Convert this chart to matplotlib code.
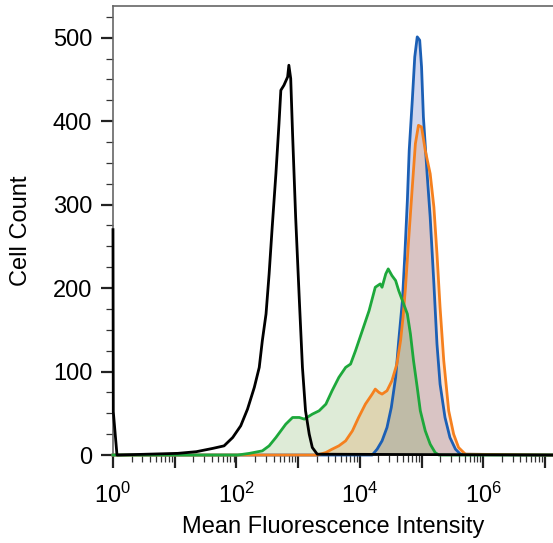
import matplotlib
matplotlib.use("Agg")
import matplotlib.pyplot as plt
import matplotlib.ticker as mticker
import numpy as np

plt.rcParams["font.family"] = ["Liberation Sans", "DejaVu Sans"]
plt.rcParams["mathtext.fontset"] = "custom"
plt.rcParams["mathtext.rm"] = "Liberation Sans"

# 曲线数据：x 为 log10(MFI)，y 为细胞计数
black_exp = [0.0, 0.005, 0.065, 1.05, 1.35, 1.62, 1.80, 1.94, 2.07, 2.18, 2.29, 2.37, 2.42, 2.48,
             2.53, 2.58, 2.64, 2.69, 2.72, 2.77, 2.83, 2.85, 2.88, 2.91, 2.96, 3.02, 3.07,
             3.12, 3.18, 3.23, 3.31, 7.13]
black_cnt = [270, 52, 0, 2, 4, 8, 11, 21, 35, 55, 81, 105, 137, 169,
             217, 273, 337, 397, 437, 443, 453, 467, 451, 385, 285, 185, 105,
             53, 25, 9, 1, 0]

green_exp = [0.0, 2.02, 2.21, 2.42, 2.53, 2.64, 2.80, 2.91, 3.02, 3.10, 3.23, 3.34, 3.45, 3.55,
             3.66, 3.77, 3.85, 3.93, 4.04, 4.15, 4.25, 4.33, 4.36, 4.42, 4.46, 4.52, 4.58,
             4.63, 4.69, 4.77, 4.82, 4.87, 4.93, 4.98, 5.06, 5.14, 5.22, 5.28, 7.13]
green_cnt = [0, 0, 2, 5, 11, 21, 37, 45, 45, 43, 49, 53, 61, 77,
             93, 105, 109, 125, 149, 173, 201, 205, 201, 217, 223, 215, 209,
             197, 185, 169, 145, 113, 81, 53, 29, 13, 3, 0, 0]

orange_exp = [0.0, 3.31, 3.45, 3.55, 3.66, 3.77, 3.88, 3.98, 4.09, 4.20, 4.25, 4.31, 4.36, 4.44,
              4.52, 4.60, 4.66, 4.70, 4.74, 4.79, 4.85, 4.90, 4.95, 5.00, 5.06, 5.14, 5.20,
              5.25, 5.30, 5.36, 5.44, 5.52, 5.60, 5.71, 7.13]
orange_cnt = [0, 0, 3, 7, 11, 17, 29, 45, 61, 73, 79, 75, 73, 77,
              89, 109, 137, 165, 201, 257, 321, 373, 395, 393, 365, 337, 297,
              241, 177, 113, 53, 25, 9, 1, 0]

blue_exp = [0.0, 4.20, 4.28, 4.36, 4.44, 4.51, 4.58, 4.63, 4.69, 4.73, 4.77, 4.80, 4.85, 4.89,
            4.93, 4.97, 5.00, 5.03, 5.09, 5.14, 5.20, 5.25, 5.30, 5.38, 5.46, 5.55, 5.63, 7.13]
blue_cnt = [0, 0, 7, 17, 33, 57, 93, 137, 185, 241, 305, 365, 425, 477,
            501, 497, 465, 405, 337, 285, 205, 133, 85, 45, 21, 7, 1, 0]

x_labels = {0: r"$\mathregular{10^{0}}$", 2: r"$\mathregular{10^{2}}$",
            4: r"$\mathregular{10^{4}}$", 6: r"$\mathregular{10^{6}}$"}

fig = plt.figure(figsize=(5.53, 5.43), dpi=100)
ax = fig.add_axes([0.2043, 0.162, 0.7957, 0.827])

# 绘制顺序：蓝、橙、绿（带填充），最后黑色
series = [
    (blue_exp, blue_cnt, "#1b5fb5", "#1432aa", 0.20),
    (orange_exp, orange_cnt, "#f5801e", "#ff7c1c", 0.20),
    (green_exp, green_cnt, "#1da83b", "#5a9b37", 0.20),
]
for exps, cnts, lc, fc, a in series:
    xs = 10 ** np.array(exps)
    ax.fill_between(xs, cnts, 0, color=fc, alpha=a, linewidth=0, zorder=2)
    ax.plot(xs, cnts, color=lc, lw=2.0, zorder=3, clip_on=False)

ax.plot(10 ** np.array(black_exp), black_cnt, color="black", lw=2.0, zorder=4, clip_on=False)

ax.set_xscale("log")
ax.set_xlim(1, 10 ** 7.13)
ax.set_ylim(0, 538)

ax.xaxis.set_major_locator(mticker.FixedLocator([10 ** i for i in range(8)]))
ax.xaxis.set_major_formatter(mticker.FuncFormatter(
    lambda v, p: x_labels.get(int(round(np.log10(v))), "")))
ax.xaxis.set_minor_locator(mticker.LogLocator(base=10, subs=np.arange(2, 10), numticks=20))
ax.xaxis.set_minor_formatter(mticker.NullFormatter())

ax.yaxis.set_major_locator(mticker.MultipleLocator(100))
ax.yaxis.set_minor_locator(mticker.MultipleLocator(25))

ax.tick_params(which="major", direction="out", length=9, width=1.6, labelsize=17, color="#222222")
ax.tick_params(which="minor", direction="out", length=5, width=0.9, color="#333333")
ax.tick_params(axis="x", which="major", pad=11)
ax.tick_params(axis="y", which="major", pad=6)

for s in ["left", "top", "bottom"]:
    ax.spines[s].set_color("#666666")
    ax.spines[s].set_linewidth(1.2)
ax.spines["right"].set_visible(False)

ax.set_xlabel("Mean Fluorescence Intensity", fontsize=17, labelpad=6)
ax.set_ylabel("Cell Count", fontsize=17, labelpad=15)

fig.savefig("out.png", dpi=100)
plt.close(fig)
